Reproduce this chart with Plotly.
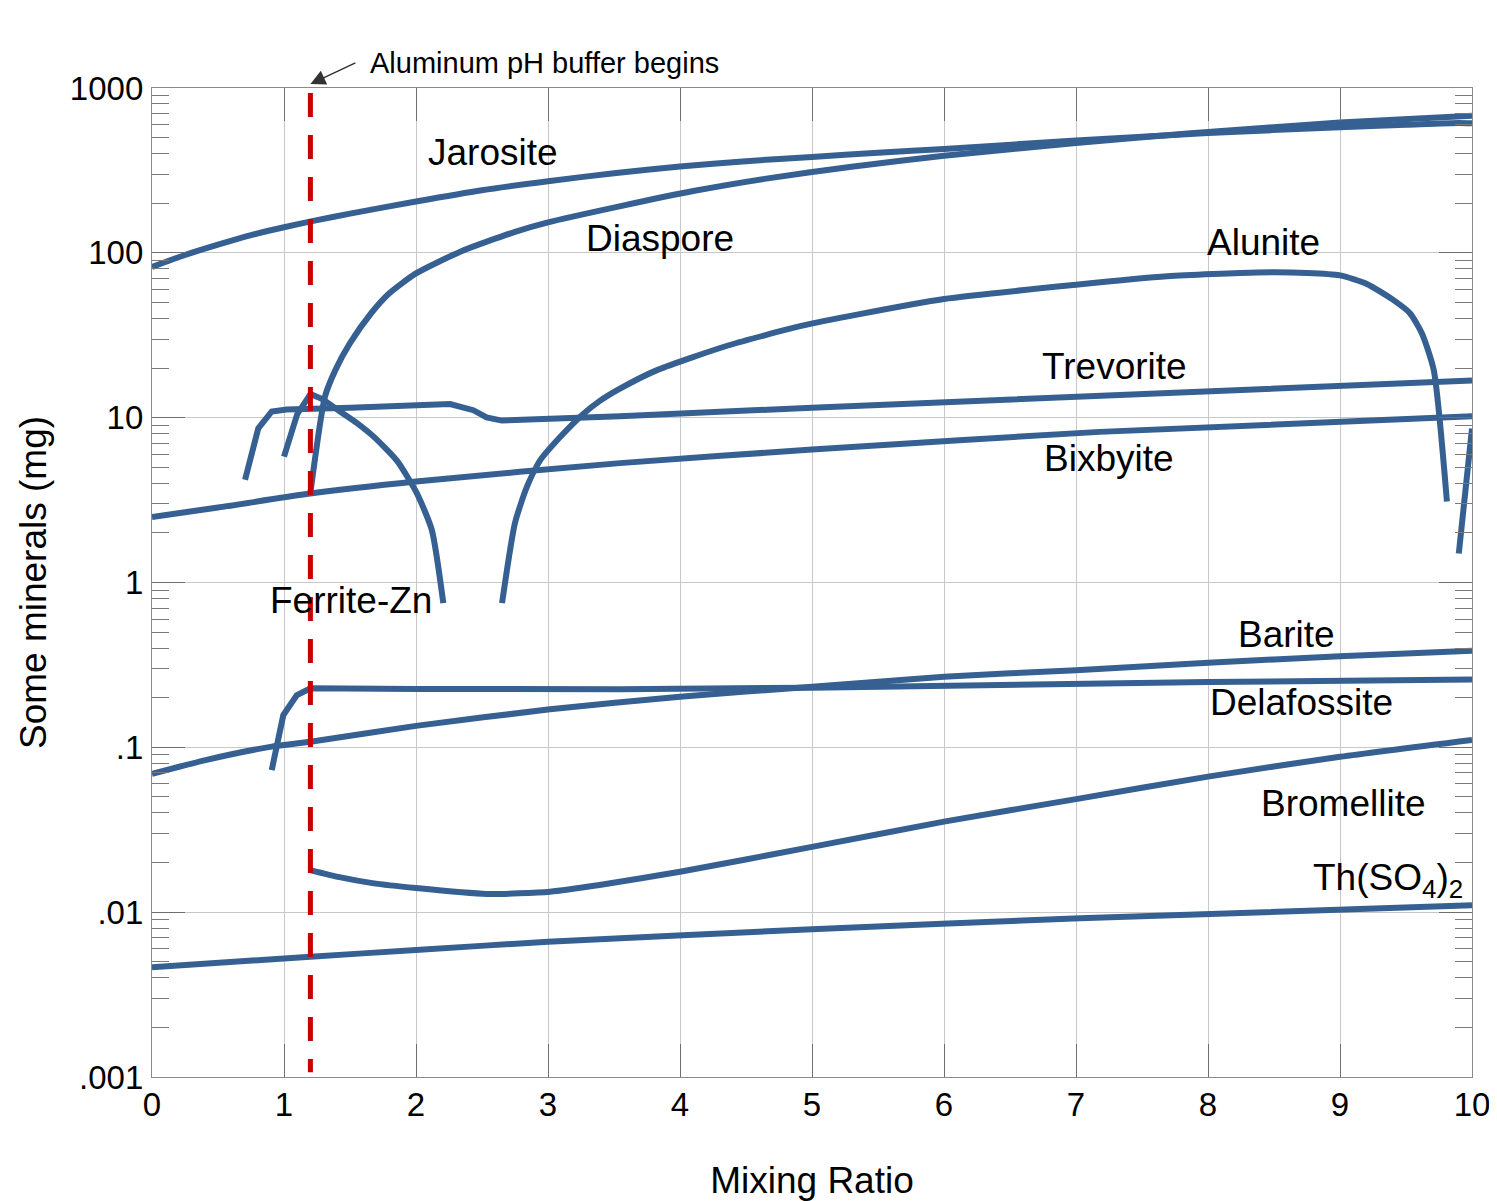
import math
import plotly.graph_objects as go

# ---------------- data ----------------
jarosite_x = [0, 0.25, 0.5, 0.75, 1.0, 1.25, 1.5, 2.0, 2.5, 3.0, 3.5, 4.0, 4.5, 5.0, 5.5, 6.0, 7.0, 8.0, 9.0, 9.5, 9.9, 10.0]
jarosite_y = [82, 97, 112, 128, 143, 158, 173, 205, 240, 272, 304, 334, 360, 382, 405, 427, 480, 533, 578, 598, 614, 611]

diaspore_x = [1.2, 1.31, 1.39, 1.5, 1.66, 1.8, 2.0, 2.34, 2.75, 3.0, 3.55, 4.1, 4.64, 5.3, 6.0, 7.0, 7.87, 9.0, 10.0]
diaspore_y = [3.5, 13.4, 19.5, 28.3, 43, 57, 75, 102, 134, 153, 192, 237, 281, 333, 388, 464, 531, 617, 679]

alunite_x = [2.652, 2.75, 2.84, 2.94, 3.09, 3.265, 3.39, 3.545, 3.83, 4.37, 4.91, 5.36, 6.0, 7.0,
             7.69, 8.37, 8.75, 9.0, 9.2, 9.4, 9.53, 9.62, 9.71, 9.81]
alunite_y = [0.75, 2.3, 3.8, 5.5, 7.6, 10.5, 12.6, 15.0, 19.5, 27.5, 35.9, 42.5, 52.5, 64,
             72, 76, 75.5, 73, 65, 52, 43, 32.5, 19.5, 3.1]
alunite_tail_x = [9.9, 10.0]
alunite_tail_y = [1.5, 8.6]

trevorite_x = [0.705, 0.805, 0.907, 1.02, 1.5, 2.0, 2.258, 2.434, 2.535, 2.65, 3.0, 3.545, 5.0, 7.18, 10.0]
trevorite_y = [4.2, 8.6, 10.9, 11.2, 11.5, 11.8, 12.1, 11.1, 10.05, 9.6, 9.8, 10.2, 11.5, 13.6, 16.8]

bixbyite_x = [0, 0.5, 1.17, 2.0, 3.545, 5.0, 7.18, 10.0]
bixbyite_y = [2.5, 2.85, 3.44, 4.1, 5.3, 6.4, 8.2, 10.2]

ferrite_x = [1.0, 1.1, 1.2, 1.3, 1.424, 1.55, 1.677, 1.854, 2.005, 2.12, 2.207]
ferrite_y = [5.8, 10.5, 13.9, 12.8, 10.9, 9.3, 7.7, 5.5, 3.5, 2.08, 0.75]

barite_x = [0, 0.414, 0.907, 1.2, 2.0, 3.015, 4.0, 5.0, 6.0, 7.0, 8.0, 9.0, 10.0]
barite_y = [0.069, 0.084, 0.101, 0.108, 0.135, 0.17, 0.203, 0.233, 0.268, 0.294, 0.326, 0.357, 0.386]

delafossite_x = [0.907, 0.995, 1.096, 1.2, 2.0, 3.545, 5.0, 7.0, 8.0, 10.0]
delafossite_y = [0.0728, 0.157, 0.207, 0.228, 0.226, 0.225, 0.23, 0.244, 0.249, 0.258]

bromellite_x = [1.2, 1.42, 1.67, 2.0, 2.535, 3.015, 3.39, 4.0, 5.0, 6.0, 7.0, 8.0, 9.0, 10.0]
bromellite_y = [0.018, 0.0163, 0.0150, 0.014, 0.0129, 0.0133, 0.0146, 0.0176, 0.0249, 0.0354, 0.0485, 0.0664, 0.0877, 0.111]

thso4_x = [0, 1.2, 2.0, 3.0, 5.0, 7.03, 10.0]
thso4_y = [0.00463, 0.00537, 0.00589, 0.00662, 0.00787, 0.00918, 0.011]

buffer_x = [1.2, 1.2]
buffer_y = [933, 0.00107]

y_tickvals = [0.001, 0.01, 0.1, 1, 10, 100, 1000]
y_ticktext = [".001", ".01", ".1", "1", "10", "100", "1000"]
x_tickvals = [0, 1, 2, 3, 4, 5, 6, 7, 8, 9, 10]

label_names = ["Jarosite", "Diaspore", "Alunite", "Trevorite", "Bixbyite", "Ferrite-Zn",
               "Barite", "Delafossite", "Bromellite", "Th(SO<sub>4</sub>)<sub>2</sub>"]
label_x = [2.583, 3.848, 8.417, 7.295, 7.25, 1.508, 8.598, 8.705, 9.03, 9.364]
label_y = [404, 123, 115, 20.3, 5.69, 0.783, 0.486, 0.186, 0.0459, 0.0157]

# ---------------- styling ----------------
BLUE = "#366092"
RED = "#c80000"
FONT = "Liberation Sans, Arial, sans-serif"
LW = 6

fig = go.Figure()

series = [
    (jarosite_x, jarosite_y, "spline"),
    (diaspore_x, diaspore_y, "spline"),
    (alunite_x, alunite_y, "spline"),
    (alunite_tail_x, alunite_tail_y, "linear"),
    (trevorite_x, trevorite_y, "linear"),
    (bixbyite_x, bixbyite_y, "spline"),
    (ferrite_x[:3], ferrite_y[:3], "linear"),
    (ferrite_x[2:], ferrite_y[2:], "spline"),
    (barite_x, barite_y, "spline"),
    (delafossite_x, delafossite_y, "linear"),
    (bromellite_x, bromellite_y, "spline"),
    (thso4_x, thso4_y, "spline"),
]
for xs, ys, shape in series:
    line = dict(color=BLUE, width=LW, shape=shape)
    if shape == "spline":
        line["smoothing"] = 0.6
    fig.add_trace(go.Scatter(x=xs, y=ys, mode="lines", line=line,
                             hoverinfo="skip", showlegend=False))

fig.add_trace(go.Scatter(x=buffer_x, y=buffer_y, mode="lines",
                         line=dict(color=RED, width=5, dash="24px,18px"),
                         hoverinfo="skip", showlegend=False))

annotations = []
for name, lx, ly in zip(label_names, label_x, label_y):
    annotations.append(dict(x=lx, y=math.log10(ly), xref="x", yref="y", text=name,
                            showarrow=False, xanchor="center", yanchor="middle",
                            font=dict(family=FONT, size=37, color="black")))

annotations.append(dict(x=0.1636, y=1.0253, xref="paper", yref="paper",
                        text="Aluminum pH buffer begins", showarrow=False,
                        xanchor="left", yanchor="middle",
                        font=dict(family=FONT, size=29, color="black")))
annotations.append(dict(x=1.2, y=1 + 4 / 989, xref="x", yref="paper", text=" ",
                        showarrow=True, ax=47, ay=-22, arrowhead=2, arrowsize=2,
                        arrowwidth=1.5, arrowcolor="#333333",
                        font=dict(size=2)))

minor_vals = [m * 10 ** e for e in range(-3, 3) for m in range(2, 10)]

fig.update_layout(
    width=1489, height=1193,
    margin=dict(l=144, r=25, t=80, b=124, autoexpand=False),
    paper_bgcolor="white", plot_bgcolor="white",
    font=dict(family=FONT, color="black"),
    annotations=annotations,
    showlegend=False,
)

fig.update_xaxes(
    range=[0, 10], tickvals=x_tickvals, ticktext=[str(v) for v in x_tickvals],
    showgrid=True, gridcolor="#c8c8c8", gridwidth=1,
    ticks="inside", ticklen=33, tickwidth=1.3, tickcolor="#6e6e6e",
    showline=True, linecolor="#8a8a8a", linewidth=1.3, mirror="ticks",
    zeroline=False, tickfont=dict(size=33, family=FONT, color="black"),
    ticklabelstandoff=-2, ticklabeloverflow="allow",
    title=dict(text="Mixing Ratio", font=dict(size=37, family=FONT, color="black"), standoff=58),
    automargin=False,
)
fig.update_yaxes(
    type="log", range=[-3, 3], tickvals=y_tickvals, ticktext=y_ticktext,
    showgrid=True, gridcolor="#c8c8c8", gridwidth=1,
    ticks="inside", ticklen=33, tickwidth=1.3, tickcolor="#6e6e6e",
    minor=dict(tickvals=minor_vals, ticks="inside", ticklen=17, tickwidth=1.2,
               tickcolor="#7a7a7a", showgrid=False),
    showline=True, linecolor="#8a8a8a", linewidth=1.3, mirror="ticks",
    zeroline=False, tickfont=dict(size=33, family=FONT, color="black"),
    ticklabelstandoff=1,
    title=dict(text="Some minerals (mg)", font=dict(size=37, family=FONT, color="black"), standoff=11),
    automargin=False,
)

fig.write_html("out.html")
